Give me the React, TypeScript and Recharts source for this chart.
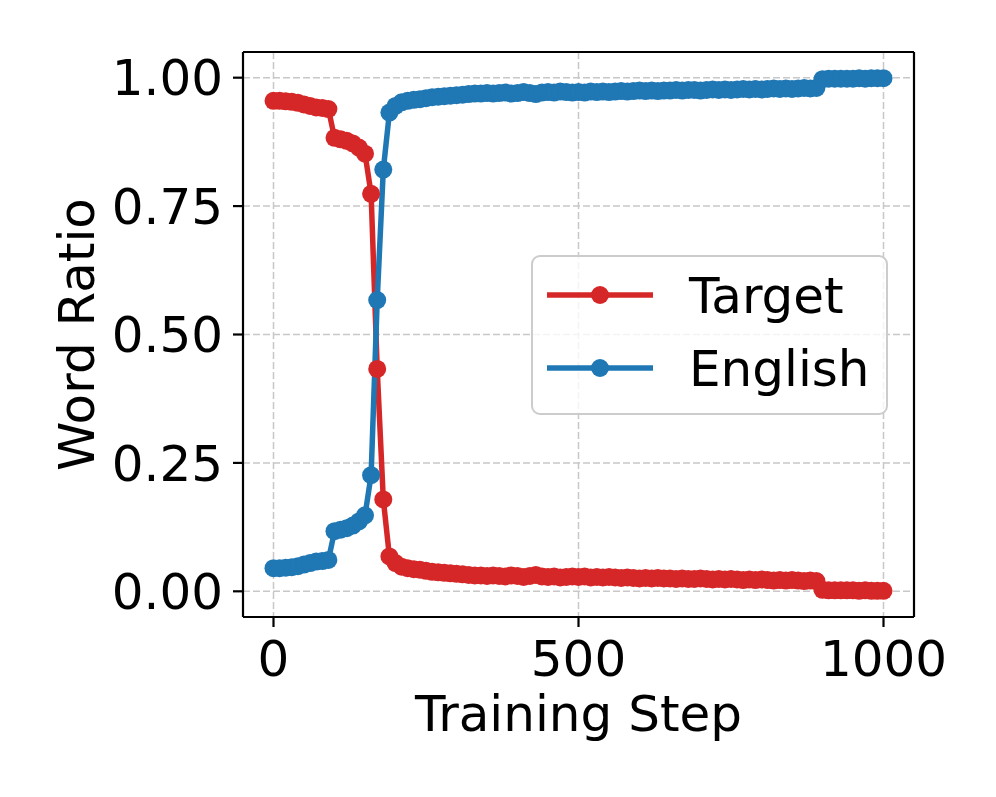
import React from 'react';
import { LineChart, Line, XAxis, YAxis, CartesianGrid, Legend } from 'recharts';

// training steps, logged every 10 steps
const steps = Array.from({ length: 101 }, (_, i) => i * 10);

const targetRatio = [
  0.955, 0.955, 0.954, 0.953, 0.951, 0.948, 0.945, 0.942, 0.941, 0.939,
  0.883, 0.88, 0.877, 0.872, 0.864, 0.852, 0.774, 0.433, 0.179, 0.068,
  0.055, 0.048, 0.045, 0.043, 0.042, 0.04, 0.038, 0.037, 0.036, 0.035,
  0.034, 0.033, 0.032, 0.031, 0.031, 0.03, 0.031, 0.03, 0.029, 0.031,
  0.03, 0.028, 0.03, 0.032, 0.029, 0.028, 0.029, 0.027, 0.028, 0.029,
  0.028, 0.029, 0.027, 0.028, 0.027, 0.028, 0.027, 0.026, 0.027, 0.026,
  0.025, 0.026, 0.025, 0.026, 0.025, 0.025, 0.024, 0.025, 0.024, 0.024,
  0.025, 0.024, 0.023, 0.024, 0.023, 0.024, 0.023, 0.022, 0.023, 0.022,
  0.023, 0.022, 0.021, 0.022, 0.021, 0.022, 0.021, 0.02, 0.021, 0.02,
  0.003, 0.002, 0.002, 0.002, 0.002, 0.002, 0.001, 0.002, 0.001, 0.001, 0.001,
];

const englishRatio = [
  0.045, 0.045, 0.046, 0.047, 0.049, 0.052, 0.055, 0.058, 0.059, 0.061,
  0.117, 0.12, 0.123, 0.128, 0.136, 0.148, 0.226, 0.567, 0.821, 0.932,
  0.945, 0.952, 0.955, 0.957, 0.958, 0.96, 0.962, 0.963, 0.964, 0.965,
  0.966, 0.967, 0.968, 0.969, 0.969, 0.97, 0.969, 0.97, 0.971, 0.969,
  0.97, 0.972, 0.97, 0.968, 0.971, 0.972, 0.971, 0.973, 0.972, 0.971,
  0.972, 0.971, 0.973, 0.972, 0.973, 0.972, 0.973, 0.974, 0.973, 0.974,
  0.975, 0.974, 0.975, 0.974, 0.975, 0.975, 0.976, 0.975, 0.976, 0.976,
  0.975, 0.976, 0.977, 0.976, 0.977, 0.976, 0.977, 0.978, 0.977, 0.978,
  0.977, 0.978, 0.979, 0.978, 0.979, 0.978, 0.979, 0.98, 0.979, 0.98,
  0.997, 0.998, 0.998, 0.998, 0.998, 0.998, 0.999, 0.998, 0.999, 0.999, 0.999,
];

const seriesNames = ['Target', 'English'];
const xTicks = [0, 500, 1000];
const yTicks = [0, 0.25, 0.5, 0.75, 1];

const data = steps.map((step, i) => ({
  step,
  Target: targetRatio[i],
  English: englishRatio[i],
}));

const FONT = '"DejaVu Sans", sans-serif';
const tickStyle = { fontFamily: FONT, fontSize: 50, fill: '#000' };

const renderLegend = (props: any) => {
  const payload = [...(props.payload || [])].sort(
    (a: any, b: any) => seriesNames.indexOf(a.value) - seriesNames.indexOf(b.value)
  );
  return (
    <svg width={357} height={160} style={{ display: 'block' }}>
      <rect x={1} y={1} width={355} height={158} rx={8} fill="#fff" fillOpacity={0.8} stroke="#cccccc" strokeWidth={2} />
      {payload.map((entry: any, i: number) => {
        const cy = 40 + i * 73;
        return (
          <g key={entry.value}>
            <line x1={16} x2={122} y1={cy} y2={cy} stroke={entry.color} strokeWidth={5.5} />
            <circle cx={69} cy={cy} r={9} fill={entry.color} />
            <text x={158} y={cy + 18} fontFamily={FONT} fontSize={50} fill="#000">
              {entry.value}
            </text>
          </g>
        );
      })}
    </svg>
  );
};

export default function App() {
  return (
    <div style={{ position: 'absolute', left: 0, top: 0, width: 996, height: 797, background: '#fff' }}>
      <LineChart width={996} height={797} data={data} margin={{ top: 51, right: 81, bottom: 60, left: 43 }}>
        <CartesianGrid stroke="#c8c8c8" strokeWidth={1.5} strokeDasharray="7 3" />
        <XAxis
          dataKey="step"
          type="number"
          domain={[-50, 1050]}
          ticks={xTicks}
          height={120}
          tickSize={10}
          tickMargin={13}
          tick={tickStyle}
          stroke="#000"
          strokeWidth={2.2}
          label={{
            value: 'Training Step',
            content: ({ viewBox }: any) => (
              <text x={viewBox.x + viewBox.width / 2} y={731} textAnchor="middle" fontFamily={FONT} fontSize={50} fill="#000">
                Training Step
              </text>
            ),
          }}
        />
        <XAxis
          xAxisId="top"
          orientation="top"
          dataKey="step"
          type="number"
          domain={[-50, 1050]}
          height={1}
          tick={false}
          tickLine={false}
          stroke="#000"
          strokeWidth={2.2}
        />
        <YAxis
          type="number"
          domain={[-0.05, 1.05]}
          ticks={yTicks}
          width={200}
          tickSize={10}
          tickMargin={10}
          tick={tickStyle}
          tickFormatter={(v: number) => v.toFixed(2)}
          stroke="#000"
          strokeWidth={2.2}
          label={{
            value: 'Word Ratio',
            content: ({ viewBox }: any) => {
              const cy = viewBox.y + viewBox.height / 2;
              return (
                <text x={94} y={cy} transform={`rotate(-90, 94, ${cy})`} textAnchor="middle" fontFamily={FONT} fontSize={50} fill="#000">
                  Word Ratio
                </text>
              );
            },
          }}
        />
        <YAxis
          yAxisId="right"
          orientation="right"
          type="number"
          domain={[-0.05, 1.05]}
          width={1}
          tick={false}
          tickLine={false}
          stroke="#000"
          strokeWidth={2.2}
        />
        <Line
          dataKey="Target"
          stroke="#d62728"
          strokeWidth={5.5}
          dot={{ r: 9, fill: '#d62728', stroke: 'none' }}
          activeDot={false}
          isAnimationActive={false}
        />
        <Line
          dataKey="English"
          stroke="#1f77b4"
          strokeWidth={5.5}
          dot={{ r: 9, fill: '#1f77b4', stroke: 'none' }}
          activeDot={false}
          isAnimationActive={false}
        />
        <Legend
          layout="horizontal"
          verticalAlign="middle"
          content={renderLegend}
          wrapperStyle={{ left: 531, top: 255, width: 357, height: 160 }}
        />
      </LineChart>
    </div>
  );
}
